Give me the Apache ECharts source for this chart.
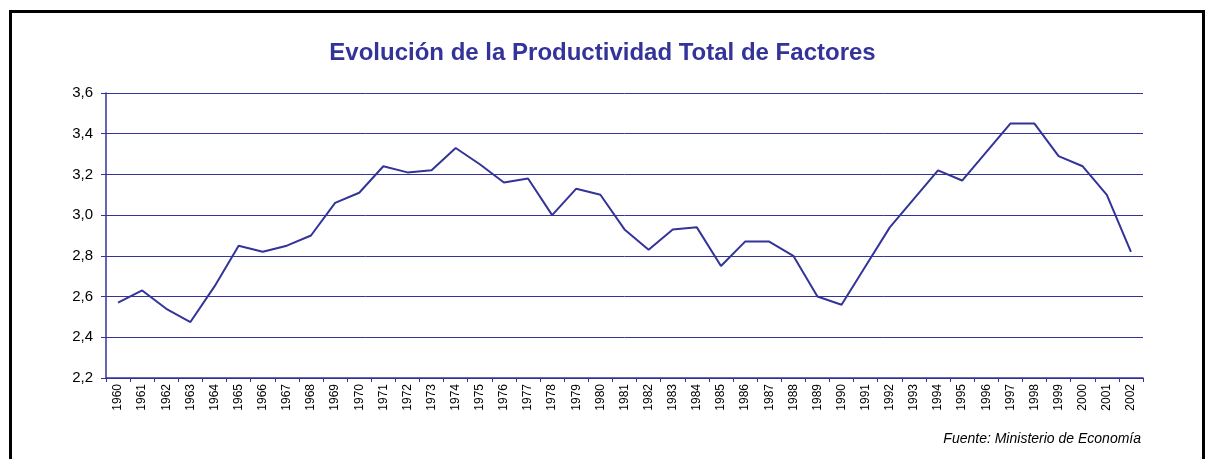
<!DOCTYPE html>
<html>
<head>
<meta charset="utf-8">
<script src="https://cdn.jsdelivr.net/npm/echarts@6/dist/echarts.min.js"></script>
<style>
  html, body { margin: 0; padding: 0; background: #fff; }
  #frame { position: absolute; left: 9px; top: 10px; width: 1190px; height: 470px; border: 3px solid #000; }
  #chart { position: absolute; left: 0; top: 0; width: 1205px; height: 459px; }
</style>
</head>
<body>
<div id="frame"></div>
<div id="chart"></div>
<script>
// años 1960 - 2002
const years = ['1960','1961','1962','1963','1964','1965','1966','1967','1968','1969',
  '1970','1971','1972','1973','1974','1975','1976','1977','1978','1979',
  '1980','1981','1982','1983','1984','1985','1986','1987','1988','1989',
  '1990','1991','1992','1993','1994','1995','1996','1997','1998','1999',
  '2000','2001','2002']

const ptf = [2.57, 2.63, 2.54, 2.475, 2.65, 2.85, 2.82, 2.85, 2.90, 3.06,
  3.11, 3.24, 3.21, 3.22, 3.33, 3.25, 3.16, 3.18, 3.00, 3.13,
  3.10, 2.93, 2.83, 2.93, 2.94, 2.75, 2.87, 2.87, 2.80, 2.60,
  2.56, 2.75, 2.94, 3.08, 3.22, 3.17, 3.31, 3.45, 3.45, 3.29,
  3.24, 3.10, 2.82]

const yMin = 2.2
const yMax = 3.6
const yStep = 0.2

const blue = '#333399'
const font = 'Liberation Sans, Arial, sans-serif'

const chart = echarts.init(document.getElementById('chart'))

const option = {
  animation: false,
  title: {
    text: 'Evolución de la Productividad Total de Factores',
    left: 'center',
    top: 36,
    textStyle: {
      color: blue,
      fontFamily: font,
      fontSize: 24,
      fontWeight: 'bold'
    }
  },
  graphic: [{
    type: 'text',
    right: 64,
    top: 432,
    style: {
      text: 'Fuente: Ministerio de Economía',
      font: 'italic 14px "Liberation Sans", Arial, sans-serif',
      fill: '#000'
    }
  }],
  grid: {
    left: 106,
    right: 62,
    top: 93,
    bottom: 81
  },
  xAxis: {
    type: 'category',
    data: years,
    boundaryGap: true,
    axisLine: { lineStyle: { color: blue, width: 1.5 } },
    axisTick: { show: true, length: 4, lineStyle: { color: blue } },
    axisLabel: {
      rotate: 90,
      interval: 0,
      margin: 6,
      color: '#000',
      fontSize: 12,
      fontFamily: font
    },
    splitLine: { show: false }
  },
  yAxis: {
    type: 'value',
    min: yMin,
    max: yMax,
    interval: yStep,
    axisLine: { show: true, lineStyle: { color: blue, width: 1.5 } },
    axisTick: { show: true, inside: false, length: 5, lineStyle: { color: blue } },
    axisLabel: {
      color: '#000',
      fontSize: 15,
      margin: 13,
      fontFamily: font,
      formatter: v => v.toFixed(1).replace('.', ',')
    },
    splitLine: { show: true, lineStyle: { color: blue, width: 1 } }
  },
  series: [{
    type: 'line',
    data: ptf,
    showSymbol: false,
    symbol: 'none',
    lineStyle: { color: blue, width: 2 }
  }]
}

chart.setOption(option)
</script>
</body>
</html>
